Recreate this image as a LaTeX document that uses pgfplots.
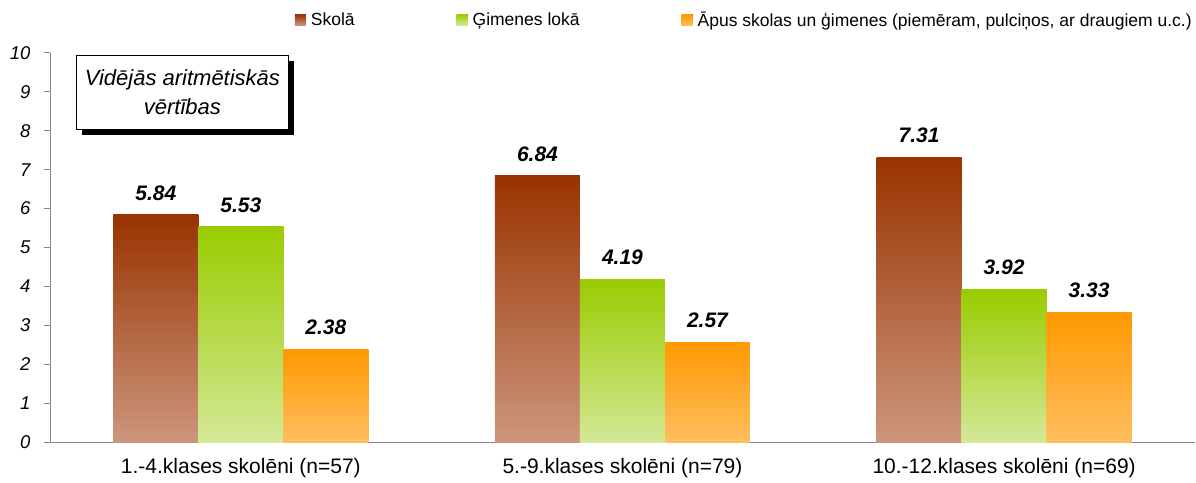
\documentclass[border=0pt]{standalone}
\usepackage{fontspec}
\setmainfont{Liberation Sans}
\usepackage{pgfplots}
\pgfplotsset{compat=1.18}
\usetikzlibrary{shadows}
\definecolor{brT}{HTML}{993300}
\definecolor{brB}{HTML}{CC967D}
\definecolor{grT}{HTML}{99CC00}
\definecolor{grB}{HTML}{D4E896}
\definecolor{orT}{HTML}{FF9900}
\definecolor{orB}{HTML}{FFBE5F}
\definecolor{axgray}{HTML}{868686}
\pgfplotsset{
  skola/.style={draw=none, top color=brT, bottom color=brB},
  gimene/.style={draw=none, top color=grT, bottom color=grB},
  apus/.style={draw=none, top color=orT, bottom color=orB},
}
\begin{document}
\begin{tikzpicture}
\path[use as bounding box] (0,0) rectangle (1196pt,482pt);
\begin{axis}[
  at={(50pt,40pt)}, anchor=south west,
  scale only axis, width=1145pt, height=389pt,
  xmin=0, xmax=3, ymin=0, ymax=10,
  axis lines*=left,
  axis line style={axgray, line width=1pt},
  clip=false,
  ybar, bar width=85pt, bar shift=0pt,
  ytick={0,1,...,10},
  tick align=outside,
  major tick length=6pt,
  tick style={axgray, line width=1pt},
  /pgf/number format/assume math mode=true,
  yticklabel style={font=\itshape\fontsize{18.5}{18.5}\selectfont, xshift=-10pt},
  xtick={0.5,1.5,2.5},
  xticklabels={1.-4.klases skolēni (n=57),5.-9.klases skolēni (n=79),10.-12.klases skolēni (n=69)},
  xticklabel style={font=\fontsize{21}{21}\selectfont, yshift=-7pt},
  x tick style={draw=none},
  extra x ticks={0,1,2,3},
  extra x tick labels={},
  extra x tick style={tick style={axgray, line width=1pt}, major tick length=4pt},
  nodes near coords,
  nodes near coords style={font=\bfseries\itshape\fontsize{21}{21}\selectfont, text=black, yshift=11pt,
    /pgf/number format/.cd, fixed, fixed zerofill, precision=2, assume math mode=true},
  legend columns=3,
  legend style={draw=none, fill=none, at={(1,1)}, anchor=east, yshift=33pt, xshift=2pt,
    font=\fontsize{17.5}{17.5}\selectfont,
    /tikz/every odd column/.append style={column sep=3pt},
    /tikz/every even column/.append style={column sep=100pt}},
  legend image code/.code={\fill[#1] (0pt,-5.5pt) rectangle (11pt,5.5pt);},
]
\addplot[skola] coordinates {(0.2773,5.84)};
\addplot[gimene] coordinates {(0.5,5.53)};
\addplot[apus] coordinates {(0.7227,2.38)};
\addplot[skola, forget plot] coordinates {(1.2773,6.84)};
\addplot[gimene, forget plot] coordinates {(1.5,4.19)};
\addplot[apus, forget plot] coordinates {(1.7227,2.57)};
\addplot[skola, forget plot] coordinates {(2.2773,7.31)};
\addplot[gimene, forget plot] coordinates {(2.5,3.92)};
\addplot[apus, forget plot] coordinates {(2.7227,3.33)};
\legend{Skolā, Ģimenes lokā, Āpus skolas un ģimenes (piemēram{,} pulciņos{,} ar draugiem u.c.)}
\node[draw=black, fill=white, line width=0.8pt, anchor=north west,
  minimum width=212pt, minimum height=74pt, align=center,
  font=\itshape\fontsize{22}{29}\selectfont,
  drop shadow={shadow xshift=6pt, shadow yshift=-6pt, fill=black, opacity=1}]
  at (rel axis cs:0.0227,0.9949) {Vidējās aritmētiskās\\vērtības};
\end{axis}
\end{tikzpicture}
\end{document}
